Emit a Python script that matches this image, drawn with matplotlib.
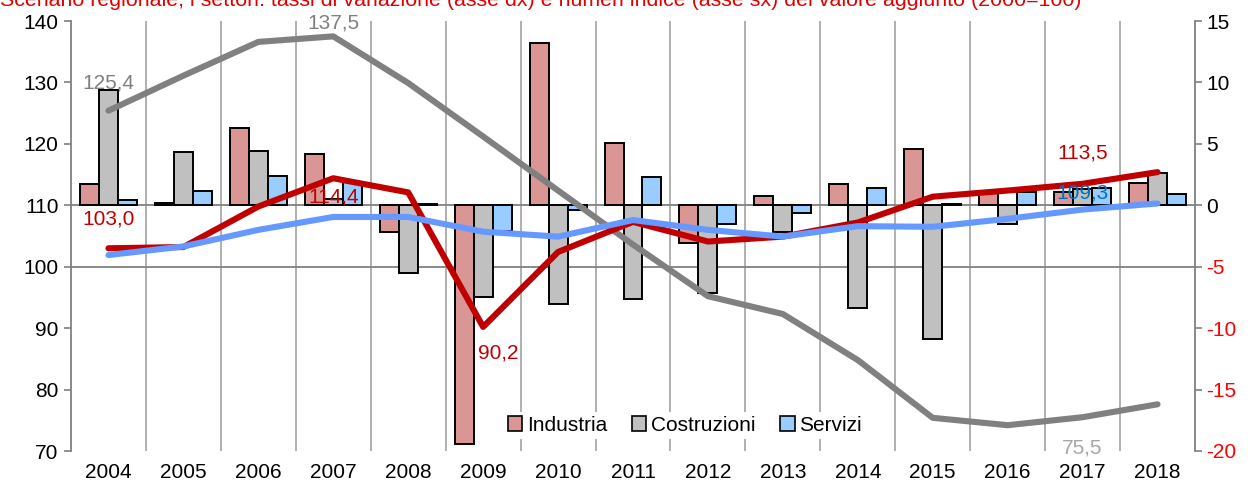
import matplotlib
matplotlib.use("Agg")
import matplotlib.pyplot as plt
from matplotlib.patches import Patch
import numpy as np

plt.rcParams['font.family'] = ['Liberation Sans', 'DejaVu Sans']

years = ['2004', '2005', '2006', '2007', '2008', '2009', '2010', '2011', '2012',
         '2013', '2014', '2015', '2016', '2017', '2018']

# growth rates (right axis, bars)
industria_var = [1.7, 0.15, 6.3, 4.2, -2.2, -19.4, 13.2, 5.1, -3.1, 0.75, 1.7, 4.55, 1.0, 1.1, 1.8]
costruzioni_var = [9.4, 4.3, 4.4, 0.5, -5.5, -7.5, -8.0, -7.6, -7.1, -2.2, -8.4, -10.9, -1.5, 1.3, 2.65]
servizi_var = [0.45, 1.2, 2.4, 1.9, 0.1, -2.1, -0.4, 2.3, -1.55, -0.65, 1.4, 0.1, 1.1, 1.4, 0.9]

# index numbers (left axis, lines)
industria_idx = [103.0, 103.2, 109.8, 114.4, 112.1, 90.2, 102.4, 107.3, 104.1, 104.9, 107.2, 111.4, 112.4, 113.5, 115.4]
costruzioni_idx = [125.4, 131.1, 136.6, 137.5, 129.9, 121.2, 112.4, 103.6, 95.2, 92.3, 84.8, 75.4, 74.2, 75.5, 77.6]
servizi_idx = [101.9, 103.3, 106.0, 108.1, 108.1, 105.7, 104.9, 107.6, 106.0, 104.9, 106.6, 106.5, 107.8, 109.3, 110.3]

series_names = ['Industria', 'Costruzioni', 'Servizi']
bar_colors = ['#D99694', '#C0C0C0', '#99CCFF']

W, H = 1250, 487
fig = plt.figure(figsize=(W / 100, H / 100), dpi=100)
ax = fig.add_axes([71 / W, 1 - 451 / H, 1124 / W, 430 / H])
ax2 = ax.twinx()

x = np.arange(len(years))
bw = 0.253

# vertical gridlines at category boundaries
for b in np.arange(0.5, len(years) - 0.5, 1.0):
    ax.axvline(b, color='#9A9A9A', lw=1.1, zorder=0)
ax.axhline(0, color='#808080', lw=1.3, zorder=1)
ax.axhline(-5, color='#808080', lw=1.3, zorder=1)

for k, (vals, c) in enumerate(zip([industria_var, costruzioni_var, servizi_var], bar_colors)):
    ax.bar(x + (k - 1) * bw, vals, width=bw, color=c, edgecolor='black', linewidth=1.4, zorder=2)

ax.set_ylim(-20, 15)
ax.set_xlim(-0.5, len(years) - 0.5)
ax.yaxis.tick_right()
rt = np.arange(-20, 16, 5)
ax.set_yticks(rt)
ax.set_yticklabels([str(v) for v in rt], fontsize=15)
for lbl, v in zip(ax.get_yticklabels(), rt):
    lbl.set_color('#FF0000' if v < 0 else 'black')
ax.tick_params(axis='y', direction='out', length=5, width=1.2, color='#808080', pad=3)
ax.set_xticks(x)
ax.set_xticklabels(years, fontsize=15)
ax.tick_params(axis='x', length=0, pad=9)
for s in ax.spines.values():
    s.set_visible(False)

# lines (left axis)
ax2.plot(x, costruzioni_idx, color='#808080', lw=4.4, solid_capstyle='round', zorder=3)
ax2.plot(x, industria_idx, color='#C00000', lw=4.4, solid_capstyle='round', zorder=4)
ax2.plot(x, servizi_idx, color='#6699FF', lw=4.4, solid_capstyle='round', zorder=5)
ax2.set_ylim(70, 140)
ax2.yaxis.tick_left()
lt = np.arange(70, 141, 10)
ax2.set_yticks(lt)
ax2.set_yticklabels([str(v) for v in lt], fontsize=15)
ax2.tick_params(axis='y', direction='out', length=5, width=1.2, color='#808080', pad=4)
ax2.spines['top'].set_visible(False)
ax2.spines['bottom'].set_visible(False)
for side in ['left', 'right']:
    ax2.spines[side].set_color('#808080')
    ax2.spines[side].set_linewidth(1.3)

# data labels
def lab(i, v, txt, color, dx, dy):
    ax2.annotate(txt, (i, v), xytext=(dx, dy), textcoords='offset pixels',
                 ha='center', va='center', fontsize=15, color=color, zorder=6)

lab(0, costruzioni_idx[0], '125,4', '#808080', 0, 28)
lab(3, costruzioni_idx[3], '137,5', '#808080', 0, 13)
lab(0, industria_idx[0], '103,0', '#C00000', 0, 29)
lab(3, industria_idx[3], '114,4', '#C00000', 0, -19)
lab(5, industria_idx[5], '90,2', '#C00000', 15, -26)
lab(13, industria_idx[13], '113,5', '#C00000', 0, 31)
lab(13, servizi_idx[13], '109,3', '#0070C0', 0, 17)
lab(13, costruzioni_idx[13], '75,5', '#A6A6A6', 0, -31)

handles = [Patch(facecolor=c, edgecolor='black', linewidth=1.2) for c in bar_colors]
leg = ax2.legend(handles, series_names, loc='center', bbox_to_anchor=(0.546, 0.06),
                 ncol=3, fontsize=15, frameon=True, handlelength=0.7, handleheight=0.7,
                 handletextpad=0.2, columnspacing=1.2, borderpad=0.2, fancybox=False)
leg.get_frame().set_facecolor('white')
leg.get_frame().set_edgecolor('none')
leg.get_frame().set_alpha(1)

fig.text(0.0, 1 - 5.5 / H,
         'Scenario regionale, i settori: tassi di variazione (asse dx) e numeri indice (asse sx) del valore aggiunto (2000=100)',
         color='#E00000', fontsize=15.4, va='baseline', ha='left')

fig.savefig('out.png', dpi=100)
